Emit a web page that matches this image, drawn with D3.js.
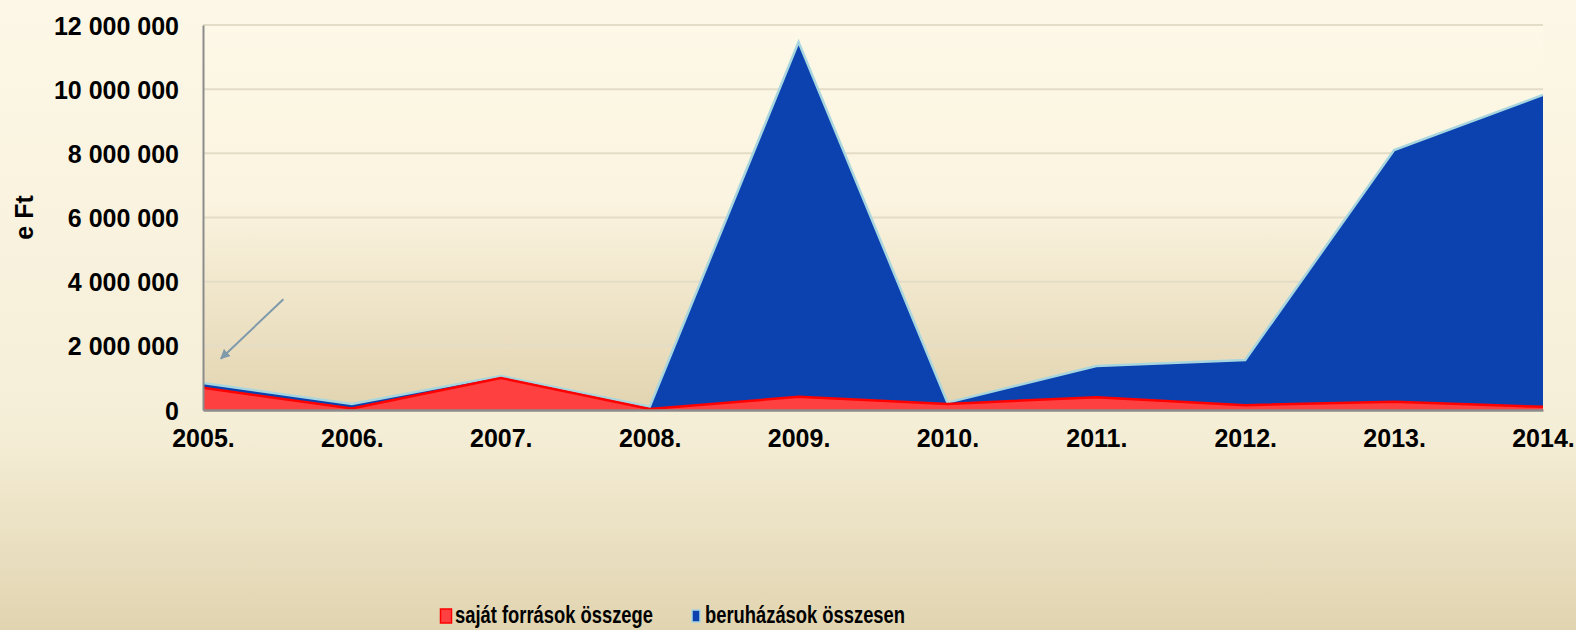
<!DOCTYPE html>
<html>
<head>
<meta charset="utf-8">
<script src="https://cdn.jsdelivr.net/npm/d3@7"></script>
<style>
  body { margin: 0; background: #f6efda; }
  svg text { font-family: "Liberation Sans", Arial, sans-serif; font-weight: bold; fill: #000; }
</style>
</head>
<body>
<div id="chart"></div>
<script>
// data (e Ft)
const years = ["2005.", "2006.", "2007.", "2008.", "2009.", "2010.", "2011.", "2012.", "2013.", "2014."]
const beruhazasok = [840000, 190000, 1060000, 100000, 11470000, 230000, 1370000, 1560000, 8100000, 9820000]
const sajatForrasok = [690000, 50000, 1000000, 30000, 410000, 190000, 400000, 150000, 260000, 100000]
const yTicks = [0, 2000000, 4000000, 6000000, 8000000, 10000000, 12000000]
const seriesNames = ["saját források összege", "beruházások összesen"]

var W = 1576, H = 630
var margin = {top: 25, right: 33, bottom: 220, left: 203},
    width = W - margin.left - margin.right,
    height = H - margin.top - margin.bottom

var svg = d3.select("#chart").append("svg")
    .attr("width", W)
    .attr("height", H)

var defs = svg.append("defs")

var pageGrad = defs.append("linearGradient").attr("id", "pageGrad")
    .attr("x1", 0).attr("y1", 0).attr("x2", 0).attr("y2", 1)
pageGrad.append("stop").attr("offset", "0%").attr("stop-color", "#fdf7e7")
pageGrad.append("stop").attr("offset", "68%").attr("stop-color", "#f5eed7")
pageGrad.append("stop").attr("offset", "100%").attr("stop-color", "#e1d4b0")

var plotGrad = defs.append("linearGradient").attr("id", "plotGrad")
    .attr("x1", 0).attr("y1", 0).attr("x2", 0).attr("y2", 1)
plotGrad.append("stop").attr("offset", "0%").attr("stop-color", "#fdf8e7")
plotGrad.append("stop").attr("offset", "45%").attr("stop-color", "#fbf4e0")
plotGrad.append("stop").attr("offset", "100%").attr("stop-color", "#e2d4b0")

defs.append("marker")
    .attr("id", "arrowHead")
    .attr("viewBox", "0 0 10 10")
    .attr("refX", 9).attr("refY", 5)
    .attr("markerWidth", 5).attr("markerHeight", 5)
    .attr("orient", "auto")
  .append("path")
    .attr("d", "M0,0 L10,5 L0,10 z")
    .attr("fill", "#7f9aab")

svg.append("rect").attr("width", W).attr("height", H).attr("fill", "url(#pageGrad)")

var g = svg.append("g").attr("transform", "translate(" + margin.left + "," + margin.top + ")")

var xScale = d3.scalePoint()
    .domain(years)
    .range([0, width])

var yScale = d3.scaleLinear()
    .domain([0, 12000000])
    .range([height, 0])

var huLocale = d3.formatLocale({decimal: ",", thousands: " ", grouping: [3], currency: ["", " Ft"]})
var fmt = huLocale.format(",d")

g.append("rect").attr("width", width).attr("height", height).attr("fill", "url(#plotGrad)")

// gridlines
g.append("g")
  .selectAll("line")
  .data(yTicks.filter(d => d > 0))
  .join("line")
    .attr("x1", 0).attr("x2", width)
    .attr("y1", d => yScale(d)).attr("y2", d => yScale(d))
    .attr("stroke", "#e3dcc7")
    .attr("stroke-width", 2)

var xOf = (d, i) => xScale(years[i])

var areaBlue = d3.area()
    .x(xOf)
    .y0(height)
    .y1(d => yScale(d))

var lineTop = d3.line()
    .x(xOf)
    .y(d => yScale(d))

g.append("path")
    .attr("d", areaBlue(beruhazasok))
    .attr("fill", "#0c42b0")
g.append("path")
    .attr("d", lineTop(beruhazasok))
    .attr("fill", "none")
    .attr("stroke", "#a8d6df")
    .attr("stroke-width", 2.5)
g.append("path")
    .attr("d", areaBlue(sajatForrasok))
    .attr("fill", "#ff4040")
g.append("path")
    .attr("d", lineTop(sajatForrasok))
    .attr("fill", "none")
    .attr("stroke", "#ff0000")
    .attr("stroke-width", 2.5)

// axes
var yAxis = d3.axisLeft(yScale).tickValues(yTicks).tickFormat(fmt).tickSize(0).tickPadding(24)
var xAxis = d3.axisBottom(xScale).tickSize(0).tickPadding(24)

var yG = g.append("g").attr("class", "axis y").call(yAxis)
yG.select(".domain").attr("stroke", "#8c8c8c").attr("stroke-width", 2)
yG.selectAll("text").attr("font-size", "25px").attr("dy", "0.36em")

var xG = g.append("g").attr("class", "axis x").attr("transform", "translate(0," + height + ")").call(xAxis)
xG.select(".domain").attr("stroke", "#8c8c8c").attr("stroke-width", 2.5)
xG.selectAll("text").attr("font-size", "25px").attr("dy", "0.5em")

svg.append("text")
    .attr("transform", "translate(33," + (margin.top + height * 0.5) + ") rotate(-90)")
    .attr("text-anchor", "middle")
    .attr("font-size", "25px")
    .text("e Ft")

// little annotation arrow near 2005
const arrowFrom = {year: 0.54, value: 3450000}
const arrowTo = {year: 0.12, value: 1600000}
var step = xScale.step()
g.append("line")
    .attr("x1", arrowFrom.year * step).attr("y1", yScale(arrowFrom.value))
    .attr("x2", arrowTo.year * step).attr("y2", yScale(arrowTo.value))
    .attr("stroke", "#7f9aab")
    .attr("stroke-width", 2)
    .attr("marker-end", "url(#arrowHead)")

// legend
var legendX = [440, 691]
var legendColors = [{fill: "#ff4040", stroke: "#ff0000"}, {fill: "#0c42b0", stroke: "#a8d6df"}]
var legend = svg.append("g").attr("class", "legend")
seriesNames.forEach((name, i) => {
  var lg = legend.append("g").attr("transform", "translate(" + legendX[i] + ",609)")
  lg.append("rect")
    .attr("x", i === 0 ? 0.5 : 1).attr("y", i === 0 ? 0 : 1)
    .attr("width", i === 0 ? 11 : 8).attr("height", i === 0 ? 14 : 12)
    .attr("fill", legendColors[i].fill)
    .attr("stroke", legendColors[i].stroke)
    .attr("stroke-width", 1.5)
  lg.append("text")
    .attr("x", i === 0 ? 15 : 14)
    .attr("y", 14)
    .attr("font-size", "23px")
    .attr("textLength", i === 0 ? 198 : 200)
    .attr("lengthAdjust", "spacingAndGlyphs")
    .text(name)
})
</script>
</body>
</html>
